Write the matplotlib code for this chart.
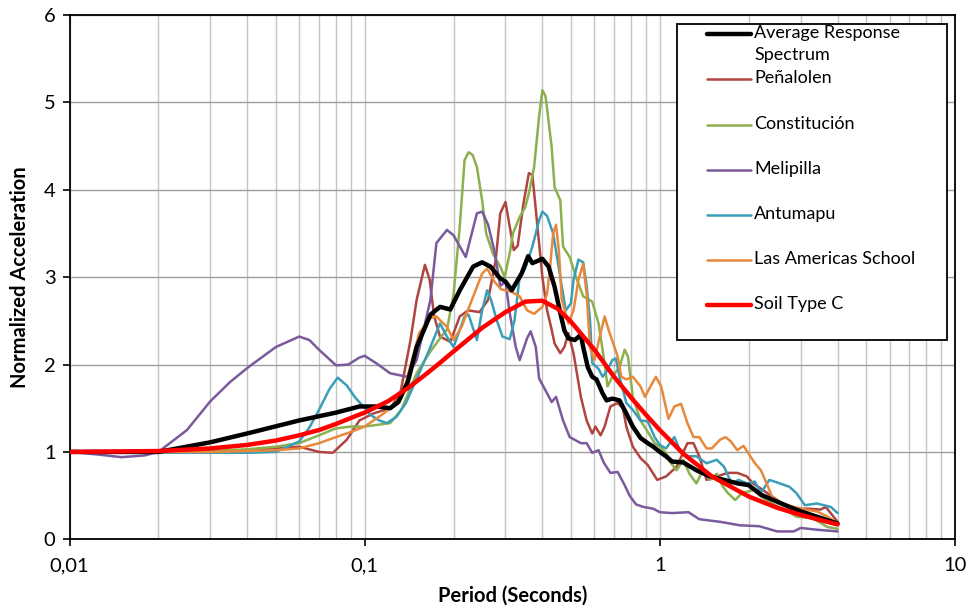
import numpy as np
import matplotlib
matplotlib.use("Agg")
import matplotlib.pyplot as plt
from matplotlib.ticker import FixedLocator, LogLocator, NullFormatter, FixedFormatter

plt.rcParams['font.family'] = ['Lato', 'DejaVu Sans']

# normalized response spectra: (period s, normalized acceleration)
avg_T = [0.01, 0.02, 0.03, 0.041, 0.06, 0.08, 0.096, 0.11, 0.122, 0.13, 0.14, 0.15, 0.167,
         0.18, 0.195, 0.21, 0.233, 0.25, 0.267, 0.287, 0.30, 0.315, 0.34, 0.358, 0.37, 0.40,
         0.42, 0.44, 0.46, 0.475, 0.49, 0.515, 0.54, 0.55, 0.57, 0.59, 0.61, 0.64, 0.66, 0.69,
         0.73, 0.77, 0.81, 0.86, 0.91, 0.95, 1.0, 1.05, 1.1, 1.2, 1.33, 1.48, 1.65, 1.83, 2.0,
         2.2, 2.5, 2.75, 3.0, 3.4, 4.0]
avg_acc = [1.0, 1.0, 1.11, 1.22, 1.36, 1.45, 1.52, 1.52, 1.50, 1.57, 1.8, 2.2, 2.57,
           2.66, 2.63, 2.85, 3.12, 3.17, 3.12, 2.99, 2.95, 2.85, 3.04, 3.24, 3.16, 3.21,
           3.12, 2.89, 2.59, 2.39, 2.30, 2.28, 2.34, 2.2, 1.97, 1.86, 1.83, 1.67, 1.59, 1.61,
           1.59, 1.44, 1.29, 1.16, 1.10, 1.06, 1.0, 0.95, 0.89, 0.88, 0.79, 0.72, 0.68, 0.64, 0.62,
           0.51, 0.43, 0.37, 0.32, 0.26, 0.18]

pen_T = [0.01, 0.02, 0.03, 0.04, 0.05, 0.06, 0.07, 0.078, 0.087, 0.096, 0.107, 0.122, 0.132,
         0.143, 0.15, 0.16, 0.166, 0.172, 0.18, 0.195, 0.21, 0.224, 0.245, 0.262, 0.278, 0.288,
         0.30, 0.31, 0.32, 0.33, 0.345, 0.36, 0.37, 0.385, 0.40, 0.415, 0.43, 0.44, 0.46, 0.475,
         0.49, 0.51, 0.54, 0.565, 0.59, 0.605, 0.63, 0.65, 0.68, 0.72, 0.75, 0.77, 0.81, 0.86,
         0.91, 0.98, 1.05, 1.14, 1.24, 1.3, 1.36, 1.44, 1.56, 1.7, 1.83, 1.97, 2.07, 2.2, 2.4,
         2.6, 2.9, 3.2, 3.5, 3.65, 4.0]
pen_acc = [1.0, 1.0, 1.01, 1.02, 1.04, 1.06, 1.0, 0.99, 1.14, 1.36, 1.44, 1.50, 1.67,
           2.28, 2.74, 3.14, 2.97, 2.55, 2.32, 2.26, 2.55, 2.62, 2.60, 2.74, 3.2, 3.73,
           3.86, 3.58, 3.31, 3.36, 3.84, 4.19, 4.17, 3.58, 3.0, 2.62, 2.40, 2.24, 2.13, 2.2,
           2.36, 2.13, 1.63, 1.36, 1.21, 1.29, 1.19, 1.29, 1.52, 1.56, 1.50, 1.29, 1.06, 0.93,
           0.85, 0.68, 0.72, 0.83, 1.10, 1.10, 0.95, 0.68, 0.72, 0.76, 0.76, 0.72, 0.64, 0.58, 0.49,
           0.41, 0.35, 0.35, 0.34, 0.37, 0.20]

con_T = [0.01, 0.02, 0.03, 0.04, 0.05, 0.06, 0.07, 0.08, 0.09, 0.1, 0.122, 0.133, 0.15,
         0.167, 0.18, 0.19, 0.2, 0.21, 0.218, 0.225, 0.232, 0.24, 0.25, 0.258, 0.272, 0.288,
         0.298, 0.31, 0.318, 0.335, 0.35, 0.36, 0.375, 0.39, 0.40, 0.41, 0.43, 0.44, 0.46, 0.47,
         0.495, 0.52, 0.55, 0.59, 0.62, 0.645, 0.665, 0.69, 0.73, 0.76, 0.78, 0.81, 0.86, 0.91,
         0.96, 1.0, 1.05, 1.08, 1.14, 1.2, 1.26, 1.33, 1.4, 1.48, 1.56, 1.63, 1.7, 1.8, 1.9, 2.1,
         2.2, 2.4, 2.65, 2.9, 3.3, 3.7, 4.0]
con_acc = [1.0, 1.0, 1.01, 1.03, 1.06, 1.10, 1.19, 1.27, 1.29, 1.29, 1.33, 1.48, 1.90,
           2.15, 2.3, 2.4, 2.8, 3.58, 4.34, 4.43, 4.40, 4.26, 3.88, 3.50, 3.27, 3.12,
           3.0, 3.27, 3.5, 3.69, 3.8, 3.96, 4.26, 4.84, 5.14, 5.07, 4.49, 4.03, 3.88, 3.35,
           3.23, 3.0, 2.78, 2.72, 2.47, 2.09, 1.75, 1.86, 1.97, 2.17, 2.09, 1.63, 1.36, 1.23,
           1.10, 1.06, 0.99, 0.89, 0.79, 0.91, 0.75, 0.64, 0.79, 0.68, 0.75, 0.61, 0.53, 0.45, 0.53, 0.57,
           0.49, 0.41, 0.34, 0.26, 0.24, 0.14, 0.12]

mel_T = [0.01, 0.0125, 0.015, 0.018, 0.02, 0.025, 0.03, 0.035, 0.04, 0.05, 0.06, 0.065, 0.07,
         0.08, 0.088, 0.096, 0.1, 0.11, 0.122, 0.139, 0.15, 0.167, 0.175, 0.19, 0.20, 0.22, 0.24,
         0.25, 0.262, 0.275, 0.288, 0.30, 0.31, 0.325, 0.335, 0.355, 0.365, 0.38, 0.39, 0.415,
         0.43, 0.445, 0.47, 0.495, 0.54, 0.565, 0.59, 0.62, 0.645, 0.68, 0.72, 0.76, 0.79, 0.83,
         0.88, 0.95, 1.0, 1.1, 1.25, 1.36, 1.6, 1.87, 2.17, 2.5, 2.84, 3.0, 3.4, 4.0]
mel_acc = [1.0, 0.97, 0.94, 0.96, 1.0, 1.25, 1.58, 1.8, 1.96, 2.2, 2.32, 2.28, 2.17,
           1.99, 2.0, 2.08, 2.10, 2.01, 1.90, 1.86, 2.05, 2.74, 3.39, 3.54, 3.48, 3.23, 3.73,
           3.75, 3.60, 3.3, 2.9, 2.95, 2.59, 2.2, 2.05, 2.30, 2.38, 2.2, 1.84, 1.67,
           1.57, 1.63, 1.36, 1.17, 1.10, 1.10, 0.99, 1.02, 0.88, 0.76, 0.77, 0.62, 0.50, 0.40,
           0.37, 0.35, 0.31, 0.30, 0.31, 0.23, 0.20, 0.16, 0.15, 0.09, 0.09, 0.13, 0.11, 0.09]

ant_T = [0.01, 0.015, 0.02, 0.03, 0.04, 0.05, 0.06, 0.065, 0.07, 0.076, 0.081, 0.087, 0.093,
         0.099, 0.105, 0.112, 0.119, 0.128, 0.138, 0.153, 0.167, 0.18, 0.19, 0.20, 0.218, 0.225,
         0.24, 0.25, 0.26, 0.268, 0.28, 0.293, 0.31, 0.322, 0.335, 0.35, 0.37, 0.39, 0.40, 0.415,
         0.435, 0.46, 0.48, 0.50, 0.51, 0.53, 0.55, 0.565, 0.58, 0.59, 0.62, 0.64, 0.66, 0.69,
         0.71, 0.73, 0.77, 0.81, 0.86, 0.91, 0.96, 1.0, 1.05, 1.12, 1.17, 1.24, 1.33, 1.44, 1.56,
         1.65, 1.75, 1.85, 1.97, 2.1, 2.2, 2.35, 2.55, 2.75, 2.9, 3.1, 3.4, 3.8, 4.0]
ant_acc = [1.0, 1.0, 0.99, 0.99, 0.99, 1.0, 1.12, 1.28, 1.48, 1.72, 1.85, 1.76, 1.62,
           1.52, 1.42, 1.36, 1.33, 1.40, 1.56, 1.90, 2.2, 2.47, 2.32, 2.20, 2.55, 2.57,
           2.28, 2.62, 2.85, 2.74, 2.51, 2.32, 2.29, 2.51, 3.0, 3.1, 3.35, 3.65, 3.75, 3.7,
           3.50, 3.0, 2.62, 2.70, 2.97, 3.2, 3.17, 2.9, 2.51, 2.02, 1.95, 1.86, 1.92, 2.05,
           2.07, 1.86, 1.56, 1.48, 1.36, 1.35, 1.17, 1.08, 1.04, 1.17, 1.02, 0.95, 0.95, 0.87, 0.91,
           0.83, 0.64, 0.68, 0.64, 0.66, 0.53, 0.68, 0.64, 0.60, 0.53, 0.39, 0.41, 0.37, 0.30]

las_T = [0.01, 0.02, 0.03, 0.04, 0.05, 0.06, 0.07, 0.08, 0.09, 0.1, 0.116, 0.128, 0.138,
         0.153, 0.167, 0.175, 0.19, 0.20, 0.213, 0.232, 0.25, 0.26, 0.275, 0.29, 0.30, 0.315,
         0.335, 0.355, 0.375, 0.40, 0.415, 0.425, 0.435, 0.445, 0.455, 0.465, 0.49, 0.51, 0.53,
         0.55, 0.565, 0.58, 0.60, 0.63, 0.65, 0.67, 0.72, 0.74, 0.77, 0.81, 0.86, 0.89, 0.93,
         0.97, 1.01, 1.07, 1.12, 1.18, 1.24, 1.3, 1.36, 1.44, 1.5, 1.6, 1.67, 1.74, 1.83, 1.92,
         2.0, 2.1, 2.2, 2.3, 2.4, 2.6, 2.85, 3.1, 3.4, 3.7, 4.0]
las_acc = [1.0, 1.0, 1.0, 1.01, 1.02, 1.04, 1.1, 1.17, 1.23, 1.29, 1.44, 1.56, 1.79,
           2.36, 2.53, 2.55, 2.43, 2.28, 2.43, 2.76, 3.04, 3.10, 2.95, 2.86, 2.85, 2.83,
           2.78, 2.62, 2.58, 2.66, 2.81, 3.12, 3.50, 3.60, 3.3, 2.75, 2.47, 2.62, 2.97,
           3.15, 2.81, 2.2, 2.05, 2.36, 2.55, 2.4, 2.09, 1.86, 1.83, 1.86, 1.75, 1.63, 1.75,
           1.86, 1.75, 1.38, 1.52, 1.55, 1.33, 1.17, 1.17, 1.04, 1.04, 1.14, 1.17, 1.12, 1.02, 1.07,
           0.98, 0.87, 0.79, 0.64, 0.49, 0.41, 0.37, 0.34, 0.32, 0.26, 0.18]

soil_T = [0.01, 0.02, 0.03, 0.04, 0.05, 0.06, 0.07, 0.08, 0.09, 0.1, 0.12, 0.14, 0.16, 0.18,
          0.2, 0.25, 0.3, 0.35, 0.4, 0.45, 0.5, 0.6, 0.7, 0.8, 0.9, 1.0, 1.2, 1.5, 2.0, 2.5,
          3.0, 3.5, 4.0]
soil_acc = [1.0, 1.01, 1.04, 1.08, 1.13, 1.19, 1.25, 1.32, 1.39, 1.45, 1.58, 1.73, 1.88, 2.02,
            2.15, 2.42, 2.60, 2.72, 2.73, 2.64, 2.49, 2.17, 1.86, 1.62, 1.42, 1.25, 0.98, 0.72,
            0.49, 0.36, 0.28, 0.22, 0.17]

series = [
    ("Average Response\nSpectrum", avg_T, avg_acc, "#000000", 3.2),
    ("Peñalolen", pen_T, pen_acc, "#B0443F", 1.8),
    ("Constitución", con_T, con_acc, "#8DB04D", 1.8),
    ("Melipilla", mel_T, mel_acc, "#7A5A9C", 1.8),
    ("Antumapu", ant_T, ant_acc, "#3A9EB8", 1.8),
    ("Las Americas School", las_T, las_acc, "#E8883A", 1.8),
    ("Soil Type C", soil_T, soil_acc, "#FF0000", 3.2),
]

W, H = 969, 614
fig = plt.figure(figsize=(W / 100, H / 100), dpi=100)
ax_l, ax_r, ax_t, ax_b = 69.5, 955.0, 15.0, 539.3
ax = fig.add_axes([ax_l / W, 1 - ax_b / H, (ax_r - ax_l) / W, (ax_b - ax_t) / H])

# draw order: individual records first, then average and code spectrum on top
order = [1, 2, 3, 4, 5, 0, 6]
for i in order:
    name, T, acc, col, lw = series[i]
    ax.plot(T, acc, color=col, lw=lw, solid_joinstyle='round', solid_capstyle='round',
            zorder=3 + (i in (0, 6)))

ax.set_xscale('log')
ax.set_xlim(0.01, 10)
ax.set_ylim(0, 6)
ax.xaxis.set_major_locator(FixedLocator([0.01, 0.1, 1, 10]))
ax.xaxis.set_major_formatter(FixedFormatter(["0,01", "0,1", "1", "10"]))
ax.xaxis.set_minor_locator(LogLocator(base=10, subs=np.arange(2, 10)))
ax.xaxis.set_minor_formatter(NullFormatter())
ax.set_yticks(range(0, 7))

ax.grid(which='both', axis='x', color='#C4C4C4', lw=1.0, zorder=0)
ax.grid(which='major', axis='y', color='#9E9E9E', lw=1.0, zorder=0)
ax.set_axisbelow(True)
ax.tick_params(axis='both', which='major', direction='out', length=5, width=1.2,
               labelsize=14.5, pad=5, colors='black')
ax.tick_params(axis='x', which='minor', length=0)
ax.tick_params(axis='x', which='major', pad=8)
for s in ax.spines.values():
    s.set_color('black')
    s.set_linewidth(1.3)

ax.set_xlabel("Period (Seconds)", fontsize=14.5, fontweight='bold', labelpad=8)
ax.set_ylabel("Normalized Acceleration", fontsize=14.5, fontweight='bold', labelpad=10)


# legend box, positioned in pixel units of the figure
def px(x, y):
    return x / W, 1 - y / H


box_l, box_r, box_t, box_b = 677, 947, 24, 340
fig.patches.append(plt.Rectangle(px(box_l, box_b), (box_r - box_l) / W, (box_b - box_t) / H,
                                 transform=fig.transFigure, facecolor='white',
                                 edgecolor='black', lw=1.3, zorder=10))
entry_y = [34, 79, 125, 170, 215, 260, 305]
for (name, T, acc, col, lw), yy in zip(series, entry_y):
    x0, y0 = px(707, yy)
    x1, _ = px(751, yy)
    fig.lines.append(plt.Line2D([x0, x1], [y0, y0], transform=fig.transFigure,
                                color=col, lw=lw, solid_capstyle='round', zorder=11))
    tx, ty = px(754, yy - 9)
    fig.text(tx, ty, name, fontsize=13, va='top', ha='left', linespacing=1.45, zorder=12)

fig.savefig("out.png", dpi=100)
